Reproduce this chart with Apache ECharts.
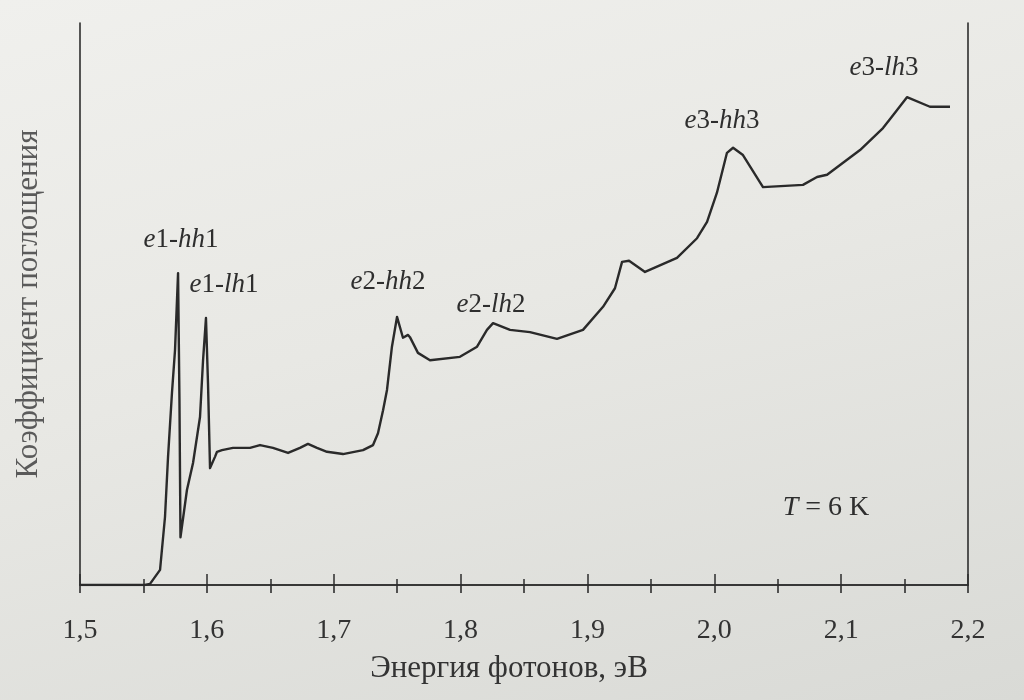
<!DOCTYPE html>
<html><head><meta charset="utf-8">
<script src="https://cdn.jsdelivr.net/npm/echarts@6/dist/echarts.min.js"></script>
<style>
html,body{margin:0;padding:0;background:#e6e6e2;}
#c{width:1024px;height:700px;background:linear-gradient(165deg,#f0f0ed 0%,#e8e8e4 45%,#d9dad6 100%);}
</style></head><body><div id="c"></div>
<script>
// Photon energy, eV
const energy = [1.5, 1.551, 1.5552, 1.5631, 1.567, 1.5694, 1.5725, 1.5749, 1.5773, 1.5784, 1.5792,
  1.5843, 1.5891, 1.5946, 1.597, 1.5993, 1.6009, 1.6025, 1.6064, 1.608, 1.6119, 1.6206, 1.634,
  1.6419, 1.6521, 1.664, 1.6734, 1.6797, 1.6868, 1.6947, 1.7073, 1.7231, 1.731, 1.7349, 1.7389,
  1.742, 1.7459, 1.7499, 1.7546, 1.7586, 1.7601, 1.7664, 1.7759, 1.7995, 1.813, 1.8208, 1.8256,
  1.839, 1.8547, 1.876, 1.8965, 1.9123, 1.9217, 1.9273, 1.9328, 1.9454, 1.9706, 1.9864, 1.9943,
  2.0021, 2.01, 2.0148, 2.0226, 2.0384, 2.0699, 2.081, 2.0889, 2.1149, 2.133, 2.1409, 2.1519,
  2.17, 2.1858];
// Absorption coefficient, arbitrary units
const absorption = [0, 0, 0.2, 2.7, 12.1, 22.8, 34.2, 41.8, 55.5, 32.9, 8.5,
  16.9, 21.7, 29.9, 40.0, 47.5, 35.9, 20.8, 22.8, 23.7, 24.0, 24.4, 24.4,
  24.9, 24.4, 23.5, 24.4, 25.1, 24.4, 23.7, 23.3, 24.0, 24.9, 27.0, 31.1,
  34.7, 42.4, 47.7, 44.0, 44.5, 44.1, 41.3, 40.0, 40.6, 42.4, 45.4, 46.6,
  45.4, 45.0, 43.8, 45.4, 49.5, 52.8, 57.5, 57.7, 55.7, 58.2, 61.7, 64.6,
  69.8, 76.9, 77.8, 76.5, 70.8, 71.2, 72.6, 73.0, 77.4, 81.3, 83.6, 86.8,
  85.1, 85.1];
const tickValues = [1.5, 1.6, 1.7, 1.8, 1.9, 2.0, 2.1, 2.2];
const tickLabels = ['1,5', '1,6', '1,7', '1,8', '1,9', '2,0', '2,1', '2,2'];
const peakNames = ['e1-hh1', 'e1-lh1', 'e2-hh2', 'e2-lh2', 'e3-hh3', 'e3-lh3'];
const tempLabel = 'T = 6 K';
const xTitle = 'Энергия фотонов, эВ';
const yTitle = 'Коэффициент поглощения';

const FONT = '"Liberation Serif", "DejaVu Serif", serif';
const INK = '#2e2e2e';

function richName(s) {
  // letters italic, digits, spaces, '=' and hyphen upright
  let out = '';
  for (const ch of s) {
    if (/[a-zA-Z]/.test(ch) && ch !== 'K') out += '{i|' + ch + '}';
    else out += '{n|' + ch + '}';
  }
  return out;
}
function richStyles(size) {
  return {
    i: {fontFamily: FONT, fontSize: size, fontStyle: 'italic', fill: INK},
    n: {fontFamily: FONT, fontSize: size, fill: INK}
  };
}

const peakPos = [[181, 240], [224, 285], [388, 282], [491, 305], [722, 121], [884, 68]];
const graphics = peakNames.map((n, k) => ({
  type: 'text', x: peakPos[k][0], y: peakPos[k][1], silent: true,
  style: {text: richName(n), rich: richStyles(27), align: 'center', verticalAlign: 'middle', fill: INK}
}));
graphics.push({
  type: 'text', x: 826, y: 508, silent: true,
  style: {text: richName(tempLabel), rich: richStyles(28), align: 'center', verticalAlign: 'middle', fill: INK}
});

const chart = echarts.init(document.getElementById('c'), null, {renderer: 'canvas'});
const frame = {show: true, lineStyle: {color: INK, width: 1.6}};
chart.setOption({
  backgroundColor: 'transparent',
  animation: false,
  grid: {left: 80, right: 56, top: 23, bottom: 115, containLabel: false},
  xAxis: [{
    type: 'value', position: 'bottom', min: 1.5, max: 2.2, interval: 0.1,
    axisLine: frame,
    axisTick: {show: true, inside: true, length: 11, lineStyle: {color: INK, width: 1.5}},
    minorTick: {show: true, splitNumber: 2, length: 6, lineStyle: {color: INK, width: 1.5}},
    splitLine: {show: false}, minorSplitLine: {show: false},
    axisLabel: {
      margin: 32, color: '#333', fontFamily: FONT, fontSize: 28,
      formatter: v => { const k = tickValues.findIndex(t => Math.abs(t - v) < 1e-6); return k >= 0 ? tickLabels[k] : ''; }
    },
    name: xTitle, nameLocation: 'middle', nameGap: 68,
    nameTextStyle: {color: '#333', fontFamily: FONT, fontSize: 31, padding: [0, 30, 0, 0]}
  }, {
    type: 'value', position: 'top', min: 1.5, max: 2.2, interval: 0.05,
    axisLine: frame,
    axisTick: {show: true, inside: true, length: 8, lineStyle: {color: INK, width: 1.6}},
    axisLabel: {show: false}, splitLine: {show: false}
  }],
  yAxis: [{
    type: 'value', position: 'left', min: 0, max: 100,
    axisLine: frame, axisTick: {show: false}, axisLabel: {show: false}, splitLine: {show: false},
    name: yTitle, nameLocation: 'middle', nameGap: 36, nameRotate: 90,
    nameTextStyle: {color: '#5a5a5a', fontFamily: FONT, fontSize: 31}
  }, {
    type: 'value', position: 'right', min: 0, max: 100,
    axisLine: frame, axisTick: {show: false}, axisLabel: {show: false}, splitLine: {show: false}
  }],
  series: [{
    type: 'line', xAxisIndex: 0, yAxisIndex: 0,
    data: energy.map((e, k) => [e, absorption[k]]),
    showSymbol: false, symbol: 'none', smooth: false,
    lineStyle: {color: '#2a2a2a', width: 2.4, join: 'round'}
  }],
  graphic: graphics
});
</script></body></html>
